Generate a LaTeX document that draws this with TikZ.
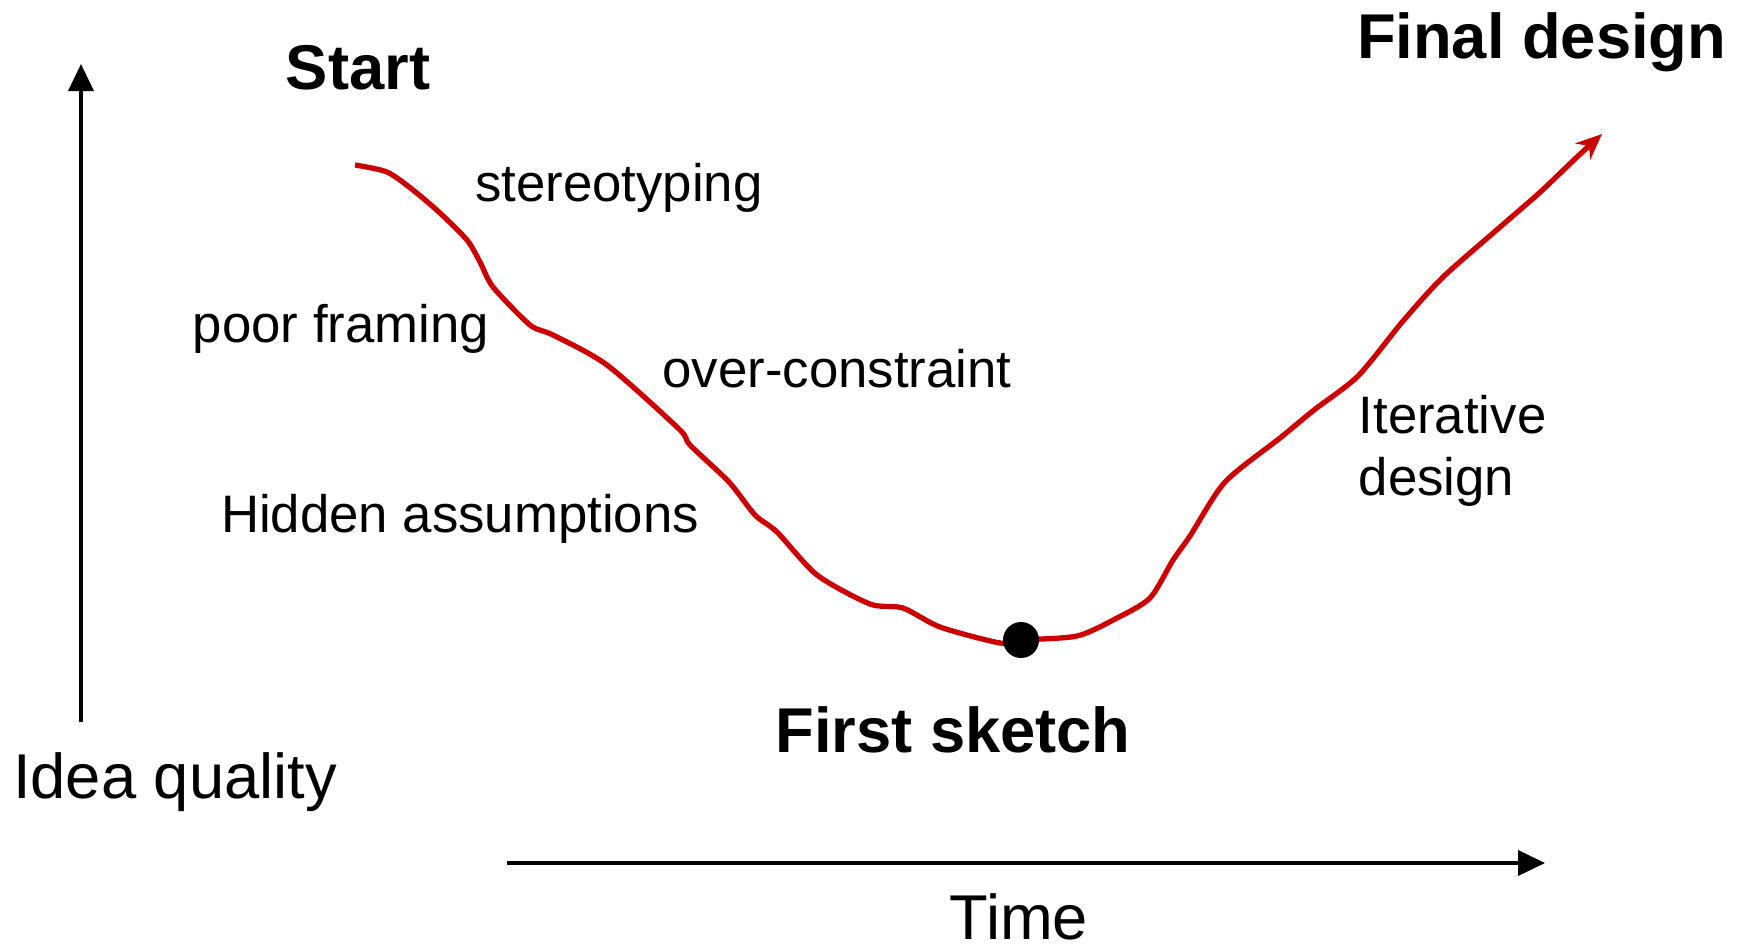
\documentclass[tikz,border=0pt]{standalone}
\usepackage{fontspec}
\setmainfont{Liberation Sans}
\usetikzlibrary{arrows.meta}
\definecolor{curvered}{HTML}{CC0000}
\tikzset{
  label/.style={font=\fontsize{15pt}{18pt}\selectfont, anchor=base, inner sep=0pt},
  axislabel/.style={font=\fontsize{18pt}{21pt}\selectfont, anchor=base, inner sep=0pt},
  stage/.style={font=\fontsize{18pt}{21pt}\selectfont\bfseries, anchor=base, inner sep=0pt},
  axis/.style={line width=1.1pt, -{Triangle[length=2.7mm,width=2.5mm]}}
}
\begin{document}
\begin{tikzpicture}[x=0.01cm, y=-0.01cm]
    \useasboundingbox (0,0) rectangle (1746,951);

    % Axes
    \coordinate (ybot) at (81,722);
    \coordinate (ytop) at (81,64);
    \coordinate (xleft) at (507,863);
    \coordinate (xright) at (1545,863);
    \draw[axis] (ybot) -- (ytop);
    \draw[axis] (xleft) -- (xright);
    \node[axislabel] (quality) at (175,798) {Idea quality};
    \node[axislabel] (time) at (1019,939) {Time};

    % Idea quality over time
    \draw[curvered, line width=1.5pt, line join=round,
          -{Stealth[length=2.6mm,width=2.2mm]}]
        plot[smooth, tension=0.45] coordinates {
        (355,165) (387,172) (413,190) (440,213) (467,240) (480,262)
        (493,287) (530,325) (553,335) (607,365) (679,429) (690,445)
        (729,482) (755,515) (777,532) (817,575) (870,604) (903,608)
        (940,627) (1000,643) (1021,640) (1077,636) (1117,618) (1150,598)
        (1173,560) (1190,536) (1225,482) (1280,438) (1314,410) (1358,376)
        (1403,321) (1442,278) (1492,234) (1537,195) (1553,180) (1577,157)
        (1602,134)};

    % First sketch point
    \fill[black] (1021,640) circle (18);

    \node[stage] (start) at (358,89) {Start};
    \node[stage, anchor=base east] (final) at (1727,58) {Final design};
    \node[stage] (sketch) at (953,752) {First sketch};

    \node[label] (stereo) at (619,201) {stereotyping};
    \node[label] (framing) at (341,342) {poor framing};
    \node[label] (constraint) at (837,387) {over-constraint};
    \node[label] (hidden) at (460,532) {Hidden assumptions};
    \node[label, anchor=base west] (iter) at (1358,433) {Iterative};
    \node[label, anchor=base west] (iterdesign) at (1358,495) {design};
\end{tikzpicture}
\end{document}
